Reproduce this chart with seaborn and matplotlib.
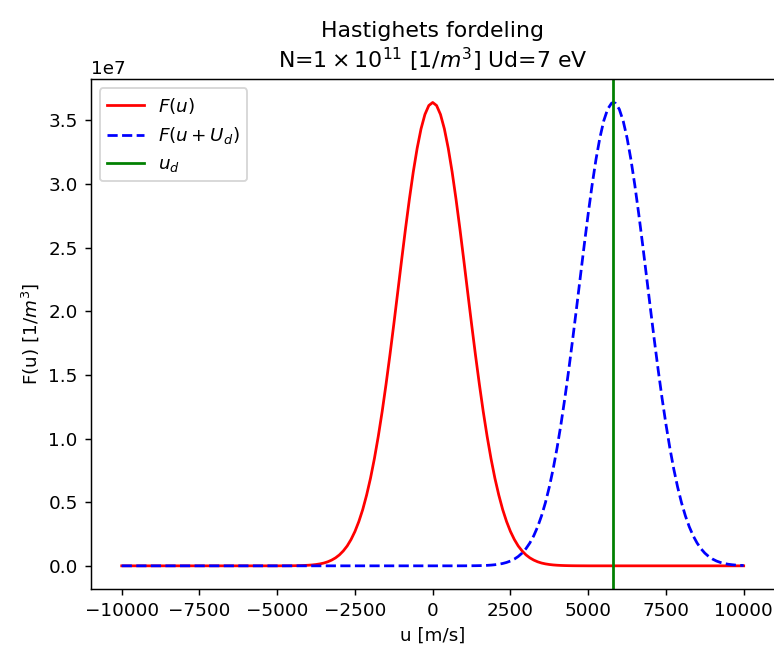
import numpy as np
import pandas as pd
import matplotlib
matplotlib.use("Agg")
import matplotlib.pyplot as plt
import seaborn as sns

# ---- data (F in units of 1e7 [1/m^3]) ----
u_red = ([-10000, -5000]
         + list(range(-4875, 4876, 125))
         + [5000, 10000])
F_red = (
    [0.0, 0.0]
    + [0.0002, 0.0003, 0.0005, 0.0008, 0.0013, 0.0020, 0.0031, 0.0047,
       0.0070, 0.0105, 0.0153, 0.022, 0.0317, 0.045, 0.0625, 0.086,
       0.117, 0.156, 0.207, 0.270, 0.348, 0.442, 0.556, 0.688,
       0.842, 1.017, 1.212, 1.427, 1.657, 1.899, 2.149, 2.401,
       2.647, 2.880, 3.094, 3.280, 3.433, 3.546, 3.616]
    + [3.640]
    + [3.616, 3.546, 3.433, 3.280, 3.094, 2.880, 2.647, 2.401,
       2.149, 1.899, 1.657, 1.427, 1.212, 1.017, 0.842, 0.688,
       0.556, 0.442, 0.348, 0.270, 0.207, 0.156, 0.117, 0.086,
       0.0625, 0.045, 0.0317, 0.022, 0.0153, 0.0105, 0.0070, 0.0047,
       0.0031, 0.0020, 0.0013, 0.0008, 0.0005, 0.0003, 0.0002]
    + [0.0, 0.0]
)

u_blue = ([-10000, 750]
          + list(range(1000, 5751, 125))
          + [5812]
          + list(range(5875, 10001, 125)))
F_blue = (
    [0.0, 0.0]
    + [0.0002, 0.0004, 0.0006, 0.0010, 0.0016, 0.0025, 0.0038, 0.0057,
       0.0086, 0.0127, 0.0185, 0.0266, 0.0378, 0.0530, 0.0734, 0.1003,
       0.1353, 0.1802, 0.2367, 0.3071, 0.3931, 0.4969, 0.620, 0.7633,
       0.928, 1.1132, 1.318, 1.5407, 1.778, 2.0246, 2.276, 2.5256,
       2.766, 2.9907, 3.192, 3.3618, 3.496, 3.5874, 3.634]
    + [3.640]
    + [3.634, 3.587, 3.4945, 3.361, 3.190, 2.989, 2.7644, 2.524,
       2.274, 2.023, 1.7758, 1.539, 1.3164, 1.112, 0.9265, 0.762,
       0.6189, 0.496, 0.3925, 0.3066, 0.2363, 0.180, 0.1349, 0.100,
       0.0732, 0.0529, 0.0377, 0.0266, 0.0184, 0.0126, 0.0086, 0.0057,
       0.0038, 0.0025]
)

u_d = 5812  # drift velocity [m/s]
x_ticks = [-10000, -7500, -5000, -2500, 0, 2500, 5000, 7500, 10000]

df_red = pd.DataFrame({"u": u_red, "F": np.array(F_red) * 1e7})
df_blue = pd.DataFrame({"u": u_blue, "F": np.array(F_blue) * 1e7})

dpi = 132
fig = plt.figure(figsize=(774 / dpi, 649 / dpi), dpi=dpi)
ax = fig.add_axes([90.6 / 774, 60 / 649, 684.2 / 774, 509.7 / 649])

sns.lineplot(data=df_red, x="u", y="F", ax=ax, color="red", label="$F(u)$")
sns.lineplot(data=df_blue, x="u", y="F", ax=ax, color="blue", linestyle="--",
             label="$F(u+U_d)$")
ax.axvline(u_d, color="green", label="$u_d$")

ax.set_title("Hastighets fordeling\nN=$1\\times10^{11}$ [1/$m^3$] Ud=7 eV")
ax.set_xlabel("u [m/s]")
ax.set_ylabel("F(u) [1/$m^3$]")
ax.set_xticks(x_ticks)
ax.set_xlim(-11000, 11000)
ax.spines["right"].set_visible(False)
ax.legend(loc="upper left")

fig.savefig("out.png", dpi=dpi)
